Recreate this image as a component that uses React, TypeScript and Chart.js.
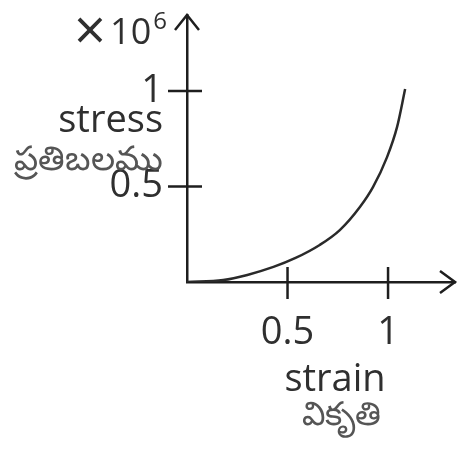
import React, { useEffect, useRef } from 'react';
import { Chart, registerables } from 'chart.js';

Chart.register(...registerables);

// Data (stress in units of 10^6)
const strain = [0, 0.18, 0.3, 0.43, 0.54, 0.66, 0.76, 0.86, 0.925, 0.995, 1.045, 1.085];
const stress = [0, 0.01, 0.037, 0.079, 0.126, 0.194, 0.272, 0.393, 0.497, 0.654, 0.812, 1.01];
const xTickValues = [0.5, 1];
const yTickValues = [0.5, 1];
const xTitle = 'strain';
const xTitleTe = 'వికృతి';
const yTitle = 'stress';
const yTitleTe = 'ప్రతిబలము';
const yUnitTimes = '×';
const yUnitBase = '10';
const yUnitExp = '6';

const FONT = '"Open Sans", "Noto Sans", sans-serif';
const TEXT = '#2f2f2f';
const AXIS = '#1e1e1e';

const decor = {
  id: 'decor',
  afterDraw(chart: any) {
    const { ctx, chartArea: a, scales } = chart;
    const x = scales.x;
    const y = scales.y;
    ctx.save();
    ctx.strokeStyle = AXIS;
    ctx.lineWidth = 2.5;
    const line = (x1: number, y1: number, x2: number, y2: number) => {
      ctx.beginPath();
      ctx.moveTo(x1, y1);
      ctx.lineTo(x2, y2);
      ctx.stroke();
    };
    // crossing tick marks
    x.ticks.forEach((t: any) => {
      const px = x.getPixelForValue(t.value);
      line(px, a.bottom - 15, px, a.bottom + 17);
    });
    y.ticks.forEach((t: any) => {
      const py = y.getPixelForValue(t.value);
      line(a.left - 19, py, a.left + 15, py);
    });
    // arrow heads
    ctx.lineJoin = 'miter';
    ctx.beginPath();
    ctx.moveTo(a.right - 15, a.bottom - 11);
    ctx.lineTo(a.right, a.bottom);
    ctx.lineTo(a.right - 15, a.bottom + 11);
    ctx.stroke();
    ctx.beginPath();
    ctx.moveTo(a.left - 12, a.top + 15);
    ctx.lineTo(a.left, a.top);
    ctx.lineTo(a.left + 12, a.top + 15);
    ctx.stroke();

    // texts
    ctx.fillStyle = TEXT;
    ctx.textBaseline = 'alphabetic';
    ctx.textAlign = 'right';
    ctx.font = `38px ${FONT}`;
    ctx.fillText(yTitle, a.left - 24, a.top + 117);
    ctx.fillStyle = '#555';
    ctx.font = `34px ${FONT}`;
    ctx.fillText(yTitleTe, a.left - 24, a.top + 155);
    ctx.fillStyle = TEXT;
    ctx.font = `24px ${FONT}`;
    ctx.fillText(yUnitExp, a.left - 20, a.top + 14);
    let right = a.left - 22 - ctx.measureText(yUnitExp).width;
    ctx.font = `36px ${FONT}`;
    ctx.fillText(yUnitBase, right, a.top + 29);
    right -= ctx.measureText(yUnitBase).width;
    ctx.font = `56px ${FONT}`;
    ctx.fillText(yUnitTimes, right - 4, a.top + 35);

    ctx.textAlign = 'center';
    ctx.font = `38px ${FONT}`;
    ctx.fillText(xTitle, a.left + 148, a.bottom + 109);
    ctx.fillStyle = '#555';
    ctx.font = `33px ${FONT}`;
    ctx.fillText(xTitleTe, a.left + 154, a.bottom + 143);
    ctx.restore();
  },
};

export default function App() {
  const ref = useRef<HTMLCanvasElement>(null);
  useEffect(() => {
    document.body.style.margin = '0';
    const canvas = ref.current!;
    const chart = new Chart(canvas, {
      type: 'scatter',
      data: {
        datasets: [
          {
            data: strain.map((v, i) => ({ x: v, y: stress[i] })),
            showLine: true,
            borderColor: '#2a2a2a',
            borderWidth: 2.5,
            pointRadius: 0,
            cubicInterpolationMode: 'monotone',
            fill: false,
          },
        ],
      },
      options: {
        animation: false,
        responsive: false,
        events: [],
        layout: { padding: { top: 15, right: 3, left: 0, bottom: 0 } },
        plugins: { legend: { display: false }, tooltip: { enabled: false } },
        scales: {
          x: {
            type: 'linear',
            min: 0,
            max: 1.333,
            afterBuildTicks: (s: any) => {
              s.ticks = xTickValues.map((v) => ({ value: v }));
            },
            afterFit: (s: any) => {
              s.height = 168;
              s.paddingLeft = 0;
              s.paddingRight = 0;
            },
            grid: { display: false, drawTicks: false },
            border: { display: true, color: AXIS, width: 2.5 },
            ticks: {
              padding: 28,
              color: TEXT,
              font: { family: FONT, size: 38 },
              maxRotation: 0,
              autoSkip: false,
              callback: (v: any) => String(v),
            },
          },
          y: {
            type: 'linear',
            min: 0,
            max: 1.398,
            afterBuildTicks: (s: any) => {
              s.ticks = yTickValues.map((v) => ({ value: v }));
            },
            afterFit: (s: any) => {
              s.width = 187;
              s.paddingTop = 0;
              s.paddingBottom = 0;
            },
            grid: { display: false, drawTicks: false },
            border: { display: true, color: AXIS, width: 2.5 },
            ticks: {
              padding: 24,
              color: TEXT,
              font: { family: FONT, size: 38 },
              autoSkip: false,
              callback: (v: any) => String(v),
            },
          },
        },
      },
      plugins: [decor],
    } as any);
    return () => chart.destroy();
  }, []);
  return (
    <div style={{ width: 458, height: 450, background: '#fff' }}>
      <canvas ref={ref} width={458} height={450} style={{ display: 'block' }} />
    </div>
  );
}
